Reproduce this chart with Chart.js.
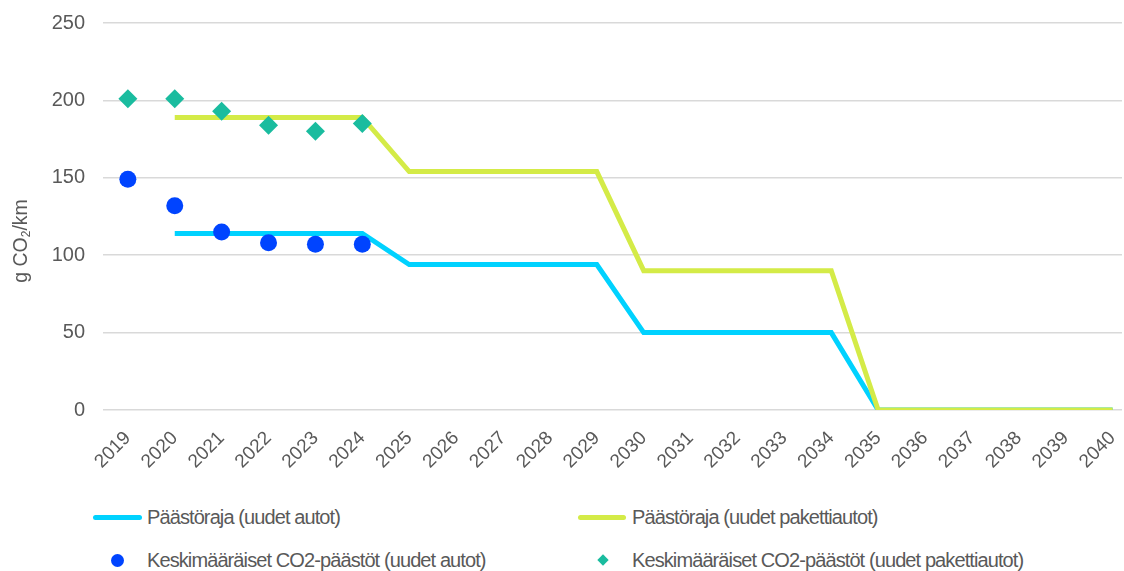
<!DOCTYPE html>
<html>
<head>
<meta charset="utf-8">
<script src="https://cdn.jsdelivr.net/npm/chart.js@4/dist/chart.umd.min.js"></script>
<style>
  body { margin: 0; background: #fff; font-family: "Liberation Sans", Arial, sans-serif; }
  #wrap { position: relative; width: 1124px; height: 571px; }
  #c { position: absolute; left: 0; top: 0; }
  .txt { position: absolute; color: #595959; font-size: 20px; letter-spacing: -0.9px; line-height: 22px; white-space: nowrap; }
  .mk { position: absolute; }
  /* legend grid: 2 columns x 2 rows */
  .i0 .mk { left: 93px; top: 515px; width: 49px; height: 5px; border-radius: 3px; }
  .i0 .txt { left: 147px; top: 506px; }
  .i1 .mk { left: 578px; top: 515px; width: 48px; height: 5px; border-radius: 3px; }
  .i1 .txt { left: 632px; top: 506px; }
  .i2 .mk { left: 111px; top: 554px; width: 13px; height: 13px; border-radius: 50%; }
  .i2 .txt { left: 147px; top: 549px; }
  .i3 .mk { left: 599px; top: 556px; width: 8px; height: 8px; transform: rotate(45deg); }
  .i3 .txt { left: 632px; top: 549px; }
</style>
</head>
<body>
<div id="wrap">
  <canvas id="c" width="1124" height="480"></canvas>
  <div id="legend"></div>
</div>
<script>
const years = ['2019', '2020', '2021', '2022', '2023', '2024', '2025', '2026', '2027', '2028', '2029',
  '2030', '2031', '2032', '2033', '2034', '2035', '2036', '2037', '2038', '2039', '2040'];

// päästörajat (g CO2/km), 2019 ei rajaa
const rajaAutot = [null, 114, 114, 114, 114, 114, 94, 94, 94, 94, 94, 50, 50, 50, 50, 50, 0, 0, 0, 0, 0, 0];
const rajaPaketti = [null, 189, 189, 189, 189, 189, 154, 154, 154, 154, 154, 90, 90, 90, 90, 90, 0, 0, 0, 0, 0, 0];

// toteutuneet keskiarvot 2019-2024
const keskiAutot = [149, 132, 115, 108, 107, 107];
const keskiPaketti = [201, 201, 193, 184, 180, 185];

const yTicks = [0, 50, 100, 150, 200, 250];

const toPts = arr => arr.map((v, i) => ({ x: i, y: v }));

const grey = '#595959';
const FONT = '"Liberation Sans", Arial, sans-serif';

// y-akselin otsikko alaindeksillä
const yTitle = {
  id: 'yTitle',
  afterDraw(chart) {
    const c = chart.ctx;
    const big = '19.5px ' + FONT, small = '12px ' + FONT;
    c.save();
    c.translate(22, 241);
    c.rotate(-Math.PI / 2);
    c.fillStyle = grey;
    c.textBaseline = 'middle';
    c.font = big;
    const wa = c.measureText('g CO').width, wd = c.measureText('/km').width;
    c.font = small;
    const wb = c.measureText('2').width;
    let x = -(wa + wb + wd) / 2;
    c.font = big;
    c.fillText('g CO', x, 0); x += wa;
    c.font = small;
    c.fillText('2', x, 5); x += wb;
    c.font = big;
    c.fillText('/km', x, 0);
    c.restore();
  }
};

const chart = new Chart(document.getElementById('c'), {
  type: 'line',
  data: {
    datasets: [{
      label: 'Päästöraja (uudet autot)',
      data: toPts(rajaAutot),
      borderColor: '#00D2FF',
      backgroundColor: '#00D2FF',
      borderWidth: 5,
      pointRadius: 0,
      order: 3
    }, {
      label: 'Päästöraja (uudet pakettiautot)',
      data: toPts(rajaPaketti),
      borderColor: '#D4EB47',
      backgroundColor: '#D4EB47',
      borderWidth: 5,
      pointRadius: 0,
      order: 2
    }, {
      label: 'Keskimääräiset CO2-päästöt (uudet autot)',
      data: toPts(keskiAutot),
      showLine: false,
      pointStyle: 'circle',
      pointRadius: 8.5,
      pointHoverRadius: 8.5,
      borderWidth: 0,
      backgroundColor: '#0044FF',
      borderColor: '#0044FF',
      order: 1
    }, {
      label: 'Keskimääräiset CO2-päästöt (uudet pakettiautot)',
      data: toPts(keskiPaketti),
      showLine: false,
      pointStyle: 'rectRot',
      pointRadius: 9.5,
      pointHoverRadius: 9.5,
      borderWidth: 0,
      backgroundColor: '#1ABC9F',
      borderColor: '#1ABC9F',
      order: 0
    }]
  },
  options: {
    responsive: false,
    animation: false,
    layout: { autoPadding: false, padding: { top: 23, right: 2, left: 0, bottom: 0 } },
    plugins: {
      legend: { display: false },
      tooltip: { enabled: false }
    },
    scales: {
      x: {
        type: 'linear',
        min: -0.53,
        max: 21.2,
        afterBuildTicks: s => { s.ticks = years.map((y, i) => ({ value: i })); },
        afterFit: s => { s.height = 70; s.paddingLeft = 0; s.paddingRight = 0; },
        grid: { display: false },
        border: { display: false },
        ticks: {
          autoSkip: false,
          maxRotation: 45,
          minRotation: 45,
          padding: 9,
          color: grey,
          font: { family: FONT, size: 19 },
          callback: v => years[v]
        }
      },
      y: {
        min: 0,
        max: 250,
        afterBuildTicks: s => { s.ticks = yTicks.map(v => ({ value: v })); },
        afterFit: s => { s.width = 103; s.paddingTop = 0; s.paddingBottom = 0; },
        border: { display: false },
        grid: { color: '#D9D9D9', lineWidth: 1.5, drawTicks: false },
        ticks: {
          padding: 18,
          color: grey,
          font: { family: FONT, size: 20 }
        }
      }
    }
  },
  plugins: [yTitle]
});

// selite kahteen sarakkeeseen
const leg = document.getElementById('legend');
chart.data.datasets.forEach((ds, i) => {
  const item = document.createElement('div');
  item.className = 'i' + i;
  const mk = document.createElement('div');
  mk.className = 'mk';
  mk.style.background = ds.backgroundColor;
  const t = document.createElement('div');
  t.className = 'txt';
  t.textContent = ds.label;
  item.appendChild(mk);
  item.appendChild(t);
  leg.appendChild(item);
});
</script>
</body>
</html>
